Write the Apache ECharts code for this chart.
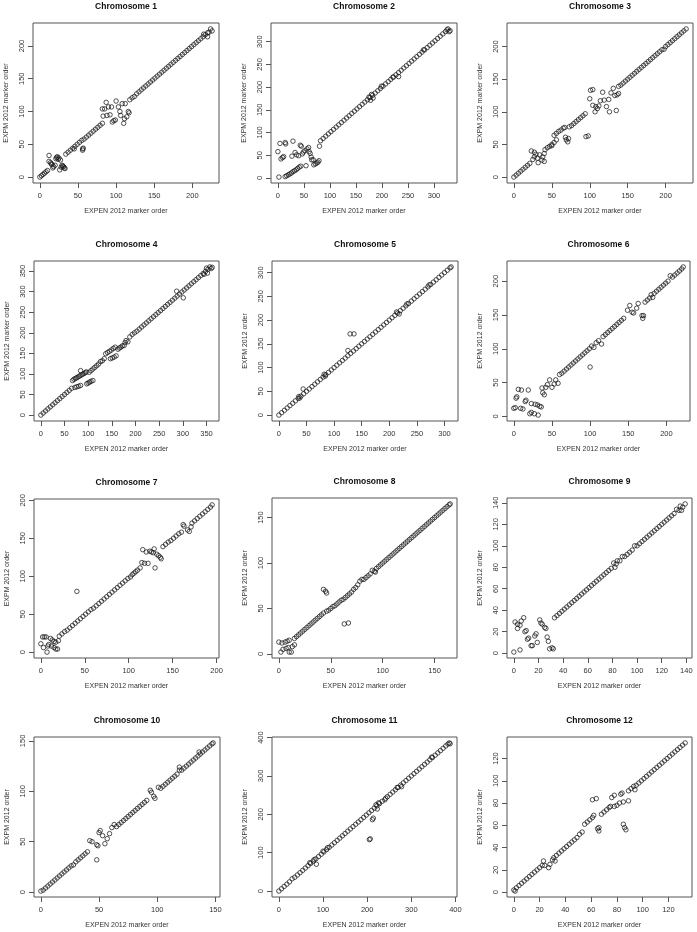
<!DOCTYPE html>
<html>
<head>
<meta charset="utf-8">
<title>EXPEN vs EXPM marker order</title>
<script src="https://cdn.jsdelivr.net/npm/echarts@6/dist/echarts.min.js"></script>
<style>
  html, body { margin: 0; padding: 0; background: #fff; }
  #chart { width: 697px; height: 932px; }
</style>
</head>
<body>
<div id="chart"></div>
<script>
// marker order pairs: EXPEN 2012 (x), EXPM 2012 (y)
const chr1 = [0,0, 2,2, 4,4, 6,6, 8,8, 10,10,
  12,33, 12,24, 14,22, 15,20, 16,19, 17,14, 18,16, 20,18, 21,28, 22,30, 23,31, 24,27, 25,29, 26,11, 27,26, 28,15, 29,18, 30,17, 31,16, 32,14, 33,13,
  34,35, 37,38, 40,41, 43,44, 45,43, 46,47, 49,50, 52,53, 55,56, 56,41, 56,43, 57,44,
  58,58, 61,61, 64,64, 67,67, 70,70, 73,73, 76,76, 79,79, 82,82,
  82,104, 83,93, 85,104, 87,114, 88,94, 90,107, 92,95, 94,107, 95,84, 97,86, 99,87, 100,116, 103,107, 105,100, 106,94, 108,112, 110,82, 111,89, 112,112, 114,92, 116,100, 117,98,
  118,118, 121,121, 124,123, 127,127, 130,130, 133,133, 136,136, 139,139, 142,142, 145,145, 148,148, 151,151, 154,154, 157,157, 160,160, 163,163, 166,166, 169,169, 172,172, 175,175, 178,178, 181,181, 184,184, 187,187, 190,190, 193,193, 196,196, 199,199, 202,202, 205,205, 208,208, 211,211, 214,214, 215,218, 217,217, 220,214, 220,220, 222,221, 224,226, 226,223];

const chr2 = [0,58, 2,2, 4,76, 6,42, 9,45, 11,47, 14,78, 15,75,
  14,3, 17,5, 20,7, 23,9, 26,11, 29,14, 32,16, 35,18, 38,21, 41,24, 44,26,
  27,48, 29,81, 33,56, 36,51, 40,49, 43,72, 45,70, 47,53, 49,57, 52,60, 54,27, 56,64, 59,67, 60,58, 62,54, 64,46, 65,40, 68,40, 69,29, 72,31, 75,33, 77,35, 79,38, 80,70,
  82,82, 87,87, 92,92, 97,97, 102,102, 107,107, 112,112, 117,117, 122,122, 127,127, 132,132, 137,137, 142,142, 147,147, 152,152, 157,157, 162,162, 167,167, 172,172, 175,178, 177,177, 178,171, 180,184, 182,182, 183,176, 187,187, 192,192, 197,197, 199,202, 202,202, 207,207, 212,212, 217,217, 221,222, 222,222, 227,227, 232,223, 232,232, 237,237, 242,242, 247,247, 252,252, 257,257, 262,262, 267,267, 272,272, 277,277, 280,282, 282,282, 287,287, 292,292, 297,297, 302,302, 307,307, 312,312, 317,317, 322,322, 325,326, 327,328, 329,322, 331,324];

const chr3 = [0,0, 3,3, 6,6, 9,9, 12,12, 15,15, 18,18, 21,21,
  23,40, 25,27, 27,38, 27,31, 29,35, 31,29, 32,22, 34,34, 37,26, 38,31, 40,36, 40,24,
  41,42, 44,45, 47,47, 50,48, 50,50, 53,53, 56,57,
  53,64, 56,67, 59,70, 62,72, 65,75, 67,76,
  68,61, 69,57, 71,54, 72,59,
  73,77, 76,79, 79,82, 82,85, 85,88, 88,91, 91,94, 94,97, 95,62, 98,63,
  100,120, 101,133, 104,134, 104,110, 107,100, 108,108, 110,105, 112,109, 114,117, 117,130, 119,118, 122,108, 125,119, 126,100, 128,129, 131,136, 133,125, 135,102, 136,126, 138,128,
  138,139, 141,141, 144,144, 147,147, 150,150, 153,153, 156,156, 159,159, 162,162, 165,165, 168,168, 171,171, 174,174, 177,177, 180,180, 183,183, 186,186, 189,189, 192,192, 195,195, 198,196, 200,200, 203,203, 206,206, 209,209, 212,212, 215,215, 218,218, 221,221, 224,224, 227,227];

const chr4 = [0,0, 5,5, 10,10, 15,15, 20,20, 25,25, 30,30, 35,35, 40,40, 45,45, 50,50, 55,55, 60,60, 65,65,
  67,84, 70,87, 73,89, 76,91, 79,93, 82,95, 84,108, 85,97, 88,99, 91,101, 94,103, 96,105,
  72,67, 76,69, 80,70, 84,72,
  97,76, 100,78, 103,80, 106,82, 110,84,
  102,104, 106,108, 110,112, 114,116, 118,120, 122,124, 126,130, 130,132, 134,137,
  137,149, 141,152, 145,155, 149,158, 153,162, 157,165,
  147,137, 151,139, 155,141, 159,144,
  163,160, 166,163, 169,165, 172,168, 176,169, 178,176, 180,181, 184,178, 188,190,
  193,196, 198,200, 203,204, 208,209, 213,214, 218,219, 223,224, 228,229, 233,234, 238,239, 243,244, 248,249, 253,254, 258,259, 263,264, 268,269, 273,274, 278,279, 283,284, 287,301, 288,289, 293,294, 298,299, 301,285, 303,304, 308,309, 313,314, 318,319, 323,324, 328,329, 333,334, 338,339, 343,344, 345,342, 348,349, 350,357, 352,345, 353,354, 357,360, 360,356, 362,359];

const chr5 = [0,0, 5,5, 10,10, 15,15, 20,20, 25,25, 30,30, 35,35, 36,39, 38,36, 40,40, 44,55, 45,45, 50,50, 55,55, 60,60, 65,65, 70,70, 75,75, 80,80, 82,86, 84,82, 85,85, 90,90, 95,95, 100,100, 105,105, 110,110, 115,115, 120,120, 125,136, 125,125, 129,171, 130,130, 135,135, 136,171, 140,140, 145,145, 150,150, 155,155, 160,160, 165,165, 170,170, 175,175, 180,180, 185,185, 190,190, 195,195, 200,200, 205,205, 210,210, 213,217, 215,215, 218,213, 220,220, 225,225, 230,230, 232,234, 235,235, 240,240, 245,245, 250,250, 255,255, 260,260, 265,265, 270,270, 272,274, 275,275, 280,280, 285,285, 290,290, 295,295, 300,300, 305,305, 310,310, 312,312];

const chr6 = [0,12, 2,13, 3,27, 4,29, 6,40, 9,12, 10,39, 12,11, 15,22, 16,24, 19,39, 21,4, 23,6, 23,19, 27,4, 28,18, 31,17, 32,2, 34,15, 36,14, 37,42, 38,35, 40,32, 42,43, 44,47, 47,54, 50,43, 53,48, 55,54, 58,49,
  60,62, 63,64, 66,67, 69,70, 72,73, 75,76, 78,79, 81,82, 84,85, 87,88, 90,91, 93,94, 96,97, 99,100, 100,73, 102,104, 105,102, 108,109, 111,112, 115,107, 117,118, 120,121, 123,124, 126,127, 129,130, 132,133, 135,136, 138,139, 141,142, 144,145,
  149,157, 152,164, 155,154, 157,153, 161,160, 163,167, 168,149, 169,145, 170,149,
  172,169, 175,172, 178,175, 180,180, 182,176, 184,182, 187,185, 190,188, 193,191, 196,194, 199,197, 202,200, 205,208, 208,206, 211,209, 214,212, 217,215, 220,218, 222,221];

const chr7 = [0,11, 2,20, 3,6, 4,20, 6,20, 7,0, 8,8, 9,10, 11,18, 12,8, 13,16, 15,14, 15,6, 17,13, 17,4, 19,4, 20,15,
  21,21, 24,24, 27,27, 30,29, 33,32, 36,35, 39,38, 41,80, 42,41, 45,44, 48,47, 51,50, 54,53, 57,56, 60,58, 63,61, 66,64, 69,67, 72,70, 75,73, 78,76, 81,79, 84,82, 87,85, 90,88, 93,91, 96,94, 99,97, 102,99, 104,102, 106,104, 108,106, 110,108,
  113,111, 115,118, 116,135, 118,117, 120,132, 122,117, 124,133, 126,132, 128,131, 129,136, 130,111, 132,129, 134,127, 136,125, 137,123,
  139,139, 142,142, 145,145, 148,147, 151,150, 154,153, 157,156, 160,158, 162,168, 163,166, 167,161, 169,159, 171,165,
  172,170, 175,173, 178,176, 181,179, 184,182, 187,185, 190,188, 193,191, 195,194];

const chr8 = [0,13, 3,12, 6,13, 8,14, 10,15, 2,2, 4,5, 7,6, 9,7, 10,2, 12,2, 13,8, 15,10,
  15,17, 17,19, 19,21, 21,23, 23,25, 25,27, 27,29, 29,31, 31,33, 33,35, 35,37, 37,39, 39,41, 41,43, 43,45,
  43,71, 45,69, 46,67,
  46,47, 48,48, 50,50, 52,52, 54,53, 56,55, 58,57, 60,59, 62,60, 64,62, 66,64, 68,66, 70,68,
  63,33, 67,34,
  72,71, 74,73, 76,76, 78,80, 80,82, 82,82, 84,84, 86,86, 88,88, 90,92, 92,91, 93,90, 94,94, 96,96, 98,98, 100,100, 102,102, 104,104, 106,106, 108,108, 110,110, 112,112, 114,114, 116,116, 118,118, 120,120, 122,122, 124,124, 126,126, 128,128, 130,130, 132,132, 134,134, 136,136, 138,138, 140,140, 142,142, 144,144, 146,146, 148,148, 150,150, 152,152, 154,154, 156,156, 158,158, 160,160, 162,162, 164,164, 165,165];

const chr9 = [0,1, 5,3, 1,29, 3,23, 3,27, 5,26, 6,30, 8,33, 9,20, 10,21, 11,13, 12,14, 14,7, 15,7, 17,16, 18,18, 19,10, 21,31, 22,28, 23,27, 25,24, 26,23, 27,15, 28,11, 29,4, 31,5, 32,4,
  33,33, 35,35, 37,37, 39,39, 41,41, 43,43, 45,45, 47,47, 49,49, 51,51, 53,53, 55,55, 57,57, 59,59, 61,61, 63,63, 65,65, 67,67, 69,69, 71,71, 73,73, 75,75, 77,77, 79,79, 81,84, 82,80, 83,83, 84,86, 86,86, 88,90, 90,90, 92,92, 94,94, 96,96, 98,100, 100,100, 102,102, 104,104, 106,106, 108,108, 110,110, 112,112, 114,114, 116,116, 118,118, 120,120, 122,122, 124,124, 126,126, 128,128, 130,130, 132,134, 134,133, 135,137, 136,133, 137,136, 139,139];

const chr10 = [0,1, 2,2, 4,4, 6,6, 8,8, 10,10, 12,12, 14,14, 16,16, 18,18, 20,20, 22,22, 24,24, 26,26, 28,27, 30,30, 32,32, 34,34, 36,36, 38,38, 40,40,
  42,51, 44,50, 48,47, 49,46, 48,32, 50,59, 51,61, 53,56, 55,48, 57,53, 59,58, 61,64,
  63,67, 65,65, 67,67, 69,69, 71,71, 73,73, 75,75, 77,77, 79,79, 81,81, 83,83, 85,85, 87,87, 89,89, 91,91, 94,101, 95,99, 97,95, 98,93,
  101,104, 103,103, 105,105, 107,107, 109,109, 111,111, 113,113, 115,115, 117,117, 119,121, 119,124, 121,121, 123,123, 125,125, 127,127, 129,129, 131,131, 133,133, 135,135, 136,139, 137,137, 139,139, 141,141, 143,143, 145,145, 147,147, 148,148];

const chr11 = [0,0, 6,6, 12,12, 18,18, 24,24, 30,32, 36,36, 42,42, 48,48, 54,54, 60,60, 66,66, 70,74, 72,72, 78,78, 80,82, 84,84, 85,70, 90,90, 96,96, 100,104, 102,102, 108,108, 110,113, 114,114, 120,120, 126,126, 132,132, 138,138, 144,144, 150,150, 156,156, 162,162, 168,168, 174,174, 180,180, 186,186, 192,192, 198,198, 204,204, 205,134, 207,136, 210,210, 212,186, 214,190, 216,216, 220,225, 222,222, 223,214, 226,230, 228,228, 234,234, 240,238, 242,242, 246,246, 252,252, 258,258, 264,264, 268,270, 270,270, 276,276, 278,272, 282,282, 288,288, 294,294, 300,300, 306,306, 312,312, 318,318, 324,324, 330,330, 336,336, 342,342, 346,349, 348,348, 354,354, 360,360, 366,366, 372,372, 378,378, 383,383, 386,386, 388,384];

const chr12 = [0,2, 1,1, 2,4, 4,6, 6,8, 8,10, 10,12, 12,14, 14,16, 16,18, 18,20, 20,22, 22,24, 23,28, 24,24, 27,22, 28,25, 30,29, 31,31, 32,28,
  33,33, 35,35, 37,37, 39,39, 41,41, 43,43, 45,45, 47,47, 49,49, 51,52, 53,54,
  55,61, 57,63, 59,65, 61,67, 62,69, 61,83, 64,84, 65,57, 66,58, 66,55,
  68,70, 70,72, 72,74, 74,76, 75,77, 76,85, 78,87, 78,77, 80,78, 82,80, 83,88, 84,89, 85,81, 85,61, 86,58, 87,56, 89,82,
  89,91, 91,93, 93,95, 94,92, 95,96, 97,98, 99,100, 101,102, 103,104, 105,106, 107,108, 109,110, 111,112, 113,114, 115,116, 117,118, 119,120, 121,122, 123,124, 125,126, 127,128, 129,130, 131,132, 133,134];

// tick labels
const ticks120 = [0, 20, 40, 60, 80, 100, 120];
const ticks140 = [0, 20, 40, 60, 80, 100, 120, 140];
const ticks150 = [0, 50, 100, 150];
const ticks200 = [0, 50, 100, 150, 200];
const ticks300 = [0, 50, 100, 150, 200, 250, 300];
const ticks350 = [0, 50, 100, 150, 200, 250, 300, 350];
const ticks400 = [0, 100, 200, 300, 400];

const chromosomeNames = ['Chromosome 1', 'Chromosome 2', 'Chromosome 3', 'Chromosome 4', 'Chromosome 5', 'Chromosome 6',
  'Chromosome 7', 'Chromosome 8', 'Chromosome 9', 'Chromosome 10', 'Chromosome 11', 'Chromosome 12'];
const chromosomeData = [chr1, chr2, chr3, chr4, chr5, chr6, chr7, chr8, chr9, chr10, chr11, chr12];
const xTicks = [ticks200, ticks300, ticks200, ticks350, ticks300, ticks200, ticks200, ticks150, ticks140, ticks150, ticks400, ticks120];
const yTicks = [ticks200, ticks300, ticks200, ticks350, ticks300, ticks200, ticks200, ticks150, ticks140, ticks150, ticks400, ticks120];
const xName = 'EXPEN 2012 marker order';
const yNames = ['EXPM 2012 marker order', 'EXPM 2012 marker order', 'EXPM 2012 marker order', 'EXPM 2012 marker order',
  'EXPM 2012 order', 'EXPM 2012 order', 'EXPM 2012 order', 'EXPM 2012 order',
  'EXPM 2012 order', 'EXPM 2012 order', 'EXPM 2012 order', 'EXPM 2012 order'];

// plot boxes [left, top, width, height]
const panels = [
  [33, 23, 186, 160], [271, 23, 186, 160], [507, 23, 186, 160],
  [34, 261, 185, 160], [272, 261, 186, 160], [507, 261, 183, 160],
  [34, 499, 185, 159], [272, 498, 185, 160], [507, 498, 185, 160],
  [34, 737, 186, 160], [272, 737, 185, 160], [507, 737, 185, 160]
];

const FONT = '"Liberation Sans", Arial, sans-serif';

function toPairs(flat) {
  const out = [];
  for (let i = 0; i < flat.length; i += 2) out.push([flat[i], flat[i + 1]]);
  return out;
}

// R style axis range: data range widened by 4% on each side
const padMin = (v) => v.min - (v.max - v.min) * 0.04;
const padMax = (v) => v.max + (v.max - v.min) * 0.04;

const myChart = echarts.init(document.getElementById('chart'));

const grid = [], xAxis = [], yAxis = [], series = [], title = [];
panels.forEach((p, i) => {
  grid.push({
    left: p[0], top: p[1], width: p[2], height: p[3],
    show: true, borderColor: '#555', borderWidth: 1,
    backgroundColor: 'transparent',
    outerBoundsMode: 'none'
  });
  title.push({
    text: chromosomeNames[i],
    left: p[0] + p[2] / 2, top: p[1] - 21,
    textAlign: 'center', padding: 0,
    textStyle: { fontFamily: FONT, fontSize: 8.5, fontWeight: 'bold', color: '#111' }
  });
  xAxis.push({
    type: 'value', gridIndex: i,
    min: padMin, max: padMax,
    axisLine: { show: false, onZero: false },
    axisTick: { show: true, length: 5, customValues: xTicks[i], lineStyle: { color: '#555', width: 1 } },
    axisLabel: { customValues: xTicks[i], margin: 9, fontFamily: FONT, fontSize: 7.5, color: '#333' },
    splitLine: { show: false },
    name: xName, nameLocation: 'middle', nameGap: 25,
    nameTextStyle: { fontFamily: FONT, fontSize: 7, color: '#333' }
  });
  yAxis.push({
    type: 'value', gridIndex: i,
    min: padMin, max: padMax,
    axisLine: { show: false, onZero: false },
    axisTick: { show: true, length: 5, customValues: yTicks[i], lineStyle: { color: '#555', width: 1 } },
    axisLabel: { customValues: yTicks[i], rotate: 90, margin: 7, fontFamily: FONT, fontSize: 7.5, color: '#333' },
    splitLine: { show: false },
    name: yNames[i], nameLocation: 'middle', nameGap: 23,
    nameTextStyle: { fontFamily: FONT, fontSize: 7, color: '#333' }
  });
  series.push({
    type: 'scatter', xAxisIndex: i, yAxisIndex: i,
    data: toPairs(chromosomeData[i]),
    symbol: 'circle', symbolSize: 4.5,
    itemStyle: { color: 'rgba(0,0,0,0)', borderColor: '#111', borderWidth: 0.9 },
    silent: true
  });
});

myChart.setOption({
  animation: false,
  backgroundColor: '#fff',
  title, grid, xAxis, yAxis, series
});
</script>
</body>
</html>
